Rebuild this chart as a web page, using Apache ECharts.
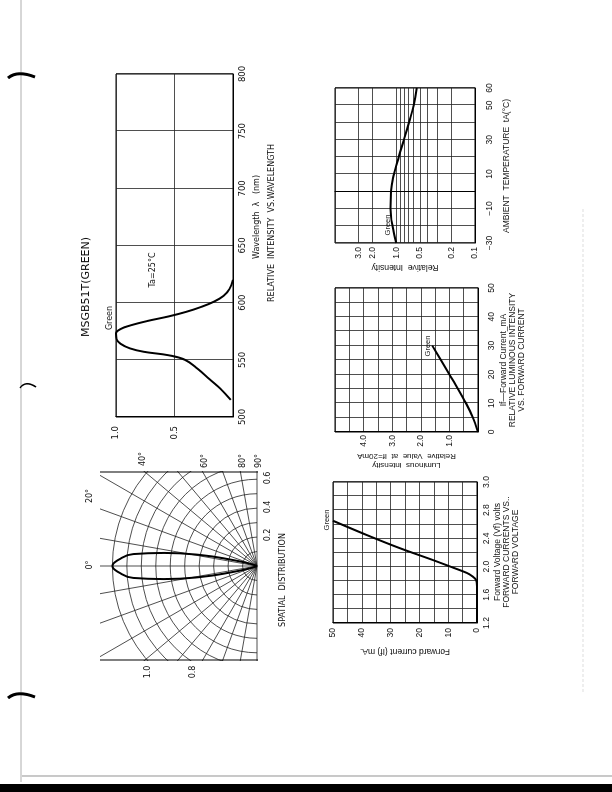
<!DOCTYPE html>
<html><head><meta charset="utf-8">
<script src="https://cdn.jsdelivr.net/npm/echarts@6/dist/echarts.min.js"></script>
<style>
html,body{margin:0;padding:0;background:#fff;width:612px;height:792px;overflow:hidden}
#page{position:absolute;left:0;top:0;width:792px;height:612px;transform-origin:0 0;transform:translate(0,792px) rotate(-90deg);}
</style></head><body><div id="page"></div>
<script>
// ---------- DATA ----------
const wavelengthNm   = [515,525,533,542,550,554,557,560,564,568,573,577,580,584,588,592,596,601,606,612,620];
const spectrumRel    = [0.02,0.11,0.2,0.3,0.41,0.55,0.76,0.88,0.96,0.995,1.0,0.96,0.88,0.73,0.55,0.4,0.28,0.16,0.08,0.03,0.0];
const wavelengthTicks = [500,550,600,650,700,750,800];

const lobeAngleDeg   = [-28,-18,-14,-11,-8,-5.5,-2.5,0,2.5,5.5,8,11,14,18,28];
const lobeRadius     = [0,0.05,0.17,0.4,0.65,0.86,0.96,1.0,0.96,0.86,0.65,0.4,0.17,0.05,0];

const vfVolts        = [1.2,1.5,1.72,1.81,1.86,1.91,2.01,2.09,2.26,2.45,2.65];
const vfCurrentMa    = [0,0,0,0.3,1.5,3.5,9.9,15.1,26.7,38.4,50];
const vfTickLabels   = ['1.2','1.6','2.0','2.4','2.8','3.0'];

const ivCurrentMa    = [0,5,10,15,20,25,30];
const ivRelative     = [0,0.18,0.42,0.7,1.0,1.3,1.6];

const tempC          = [-30,-20,-10,0,10,20,30,40,50,60];
const tempRelative   = [1.0,1.12,1.18,1.17,1.07,0.93,0.8,0.69,0.6,0.55];
const tempTicks      = [-30,-10,10,30,50,60];
const relIntTicks    = [0.1,0.2,0.5,1,2,3];
const logMinor       = [0.2,0.3,0.4,0.5,0.6,0.7,0.8,0.9,2,3];

// ---------- CHART ----------
const FONT = 'DejaVu Sans';
const FONT2 = 'Liberation Sans';
const chart = echarts.init(document.getElementById('page'), null, {renderer:'canvas', width:792, height:612});

function pairs(a,b){return a.map((v,i)=>[v,b[i]]);}
const black = '#111';
const gridLine = {show:true, lineStyle:{color:'#222', width:0.8}};

function txt(x,y,text,opts){
  opts = opts||{};
  return {type:'text', x:x, y:y, z:20, rotation: opts.rot||0,
    style:{text:text, fill:'#111', fontSize:opts.size||8, fontFamily:opts.font||FONT,
      align:opts.align||'center', verticalAlign:'middle', lineHeight:opts.lh||10}};
}
function rect(x,y,w,h,fill,z){return {type:'rect', z:z, shape:{x:x,y:y,width:w,height:h}, style:{fill:fill}};}
function line(x1,y1,x2,y2,color,w,z,dash){return {type:'line', z:z||20, shape:{x1:x1,y1:y1,x2:x2,y2:y2}, style:{stroke:color, lineWidth:w, lineDash:dash||null}};}
function mark(x,y,len,w){return {type:'bezierCurve', z:20, shape:{x1:x-3,y1:y,x2:x-2,y2:y+len,cpx1:x+5,cpy1:y+len*0.35}, style:{stroke:'#000', lineWidth:w, fill:null}};}

const option = {
  animation:false,
  backgroundColor:'#fff',
  grid:[
    {left:375, top:116, width:343, height:117, show:true, borderColor:'#000', borderWidth:1, z:5},
    {left:169, top:333, width:141, height:144, show:true, borderColor:'#000', borderWidth:1, z:5},
    {left:360, top:335, width:144, height:143, show:true, borderColor:'#000', borderWidth:1, z:5},
    {left:549, top:335, width:155, height:140, show:true, borderColor:'#000', borderWidth:1, z:5}
  ],
  polar:{center:[226,257], radius:188},
  angleAxis:{type:'value', min:-90, max:90, startAngle:180, endAngle:0, clockwise:true, interval:10, z:0,
    axisLine:{show:false}, axisTick:{show:false}, axisLabel:{show:false},
    splitLine:{show:true, lineStyle:{color:'#222', width:0.8}}},
  radiusAxis:{type:'value', min:0, max:1.3, interval:0.1, z:0,
    axisLine:{show:false}, axisTick:{show:false}, axisLabel:{show:false},
    splitLine:{show:true, lineStyle:{width:0.8, color:['#222','#222','#222','#222','#222','#222','#222','#222','#222','#222','#222','rgba(0,0,0,0)','rgba(0,0,0,0)','rgba(0,0,0,0)']}}},
  xAxis:[
    {gridIndex:0, type:'value', min:500, max:800, interval:50, z:5,
      axisLine:{show:true, lineStyle:{color:'#000'}}, axisTick:{show:false}, splitLine:gridLine,
      axisLabel:{fontSize:8.5, fontFamily:FONT, color:black, margin:5,
        formatter:v=>wavelengthTicks.indexOf(v)>=0?String(v):''}},
    {gridIndex:1, type:'value', min:1.2, max:3.2, interval:0.2, z:5,
      axisLine:{show:true, lineStyle:{color:'#000'}}, axisTick:{show:false}, splitLine:gridLine,
      axisLabel:{fontSize:8.5, fontFamily:FONT2, color:black, margin:5,
        formatter:(v,i)=> i%2===0 ? (vfTickLabels[i/2]||'') : ''}},
    {gridIndex:2, type:'value', min:0, max:50, interval:5, z:5,
      axisLine:{show:true, lineStyle:{color:'#000'}}, axisTick:{show:false}, splitLine:gridLine,
      axisLabel:{fontSize:8.5, fontFamily:FONT2, color:black, margin:9,
        formatter:v=> v%10===0 ? String(v) : ''}},
    {gridIndex:3, type:'value', min:-30, max:60, interval:10, z:5,
      axisLine:{show:true, lineStyle:{color:'#000'}}, axisTick:{show:false}, splitLine:gridLine,
      axisLabel:{fontSize:8.5, fontFamily:FONT2, color:black, margin:10,
        formatter:v=> tempTicks.indexOf(v)>=0 ? String(v).replace('-','\u2212') : ''}}
  ],
  yAxis:[
    {gridIndex:0, type:'value', min:0, max:1, interval:0.5, z:5,
      axisLine:{show:true, lineStyle:{color:'#000'}}, axisTick:{show:false}, splitLine:gridLine,
      axisLabel:{fontSize:8.5, fontFamily:FONT, color:black, margin:9,
        formatter:v=> v===0 ? '' : v.toFixed(1)}},
    {gridIndex:1, type:'value', min:0, max:50, interval:5, z:5,
      name:'Forward current (If) mA.', nameLocation:'middle', nameGap:24, nameRotate:90,
      nameTextStyle:{fontSize:8.5, fontFamily:FONT2, color:black},
      axisLine:{show:true, lineStyle:{color:'#000'}}, axisTick:{show:false}, splitLine:gridLine,
      axisLabel:{fontSize:8.5, fontFamily:FONT2, color:black, margin:5,
        formatter:v=> v%10===0 ? String(v) : ''}},
    {gridIndex:2, type:'value', min:0, max:5, interval:0.5, z:5,
      name:'Luminous  intensity\nRelative  Value  at  If=20mA', nameLocation:'middle', nameGap:20, nameRotate:90,
      nameTextStyle:{fontSize:8, fontFamily:FONT2, color:black, lineHeight:9},
      axisLine:{show:true, lineStyle:{color:'#000'}}, axisTick:{show:false}, splitLine:gridLine,
      axisLabel:{fontSize:8.5, fontFamily:FONT2, color:black, margin:3,
        formatter:v=> (v>=1 && v<=4 && v%1===0) ? v.toFixed(1) : ''}},
    {gridIndex:3, type:'log', min:0.1, max:6, logBase:10, z:5,
      name:'Relative  Intensity', nameLocation:'middle', nameGap:19, nameRotate:90,
      nameTextStyle:{fontSize:8.5, fontFamily:FONT2, color:black},
      axisLine:{show:true, lineStyle:{color:'#000'}}, axisTick:{show:false}, splitLine:gridLine,
      axisLabel:{fontSize:8.5, fontFamily:FONT2, color:black, margin:4, customValues:relIntTicks,
        formatter:v=> Number(v).toFixed(1)}}
  ],
  series:[
    {type:'line', xAxisIndex:0, yAxisIndex:0, data:pairs(wavelengthNm, spectrumRel), smooth:0.4,
      showSymbol:false, lineStyle:{color:'#000', width:2}, z:6},
    {type:'line', coordinateSystem:'polar', data:pairs(lobeRadius, lobeAngleDeg), smooth:0.5,
      showSymbol:false, lineStyle:{color:'#000', width:2}, z:2},
    {type:'line', xAxisIndex:1, yAxisIndex:1, data:pairs(vfVolts, vfCurrentMa), smooth:0.3,
      showSymbol:false, lineStyle:{color:'#000', width:2}, z:6},
    {type:'line', xAxisIndex:2, yAxisIndex:2, data:pairs(ivCurrentMa, ivRelative), smooth:0.3,
      showSymbol:false, lineStyle:{color:'#000', width:2}, z:6},
    {type:'line', xAxisIndex:3, yAxisIndex:3, data:pairs(tempC, tempRelative), smooth:0.4,
      showSymbol:false, lineStyle:{color:'#000', width:2}, z:6,
      markLine:{silent:true, symbol:'none', label:{show:false}, lineStyle:{color:'#222', width:0.8, type:'solid'},
        data:logMinor.map(v=>({yAxis:v}))}}
  ],
  graphic:[
    // masks clipping the polar grid to its frame
    rect(20,40,111,225,'#fff',3),
    rect(321,40,100,225,'#fff',3),
    rect(60,30,360,70,'#fff',3),
    line(132,100,132,258,'#000',1,4),
    line(320,100,320,258,'#000',1,4),
    // spectrum texts
    txt(474,110,'Green'),
    txt(522,153,'Ta=25\u00b0C'),
    txt(575,257,'Wavelength  \u03bb   (nm)'),
    txt(569,272,'RELATIVE  INTENSITY  VS.WAVELENGTH'),
    // polar texts
    txt(227,90,'0\u00b0'), txt(296,90,'20\u00b0'),
    txt(333,143,'40\u00b0'), txt(331,205,'60\u00b0'), txt(331,243,'80\u00b0'), txt(331,259,'90\u00b0'),
    txt(257,268,'0.2'), txt(285,268,'0.4'), txt(314,268,'0.6'),
    txt(120,148,'1.0'), txt(120,193,'0.8'),
    txt(212,283,'SPATIAL  DISTRIBUTION'),
    // title
    txt(505,86,'MSGB51T(GREEN)',{size:11}),
    // forward voltage texts
    txt(272,327,'Green',{font:FONT2,size:7.5}),
    txt(240,507,'Forward Voltage (Vf) volts\nFORWARD CURRENTS VS..\nFORWARD VOLTAGE',{font:FONT2,size:8.5,lh:9}),
    // luminous texts
    txt(446,428,'Green',{font:FONT2,size:7.5}),
    txt(432,513,'If\u2014Forward Current_mA\nRELATIVE LUMINOUS INTENSITY\nVS. FORWARD CURRENT',{font:FONT2,size:8.5,lh:9}),
    // temperature texts
    txt(567,388,'Green',{font:FONT2,size:7.5}),
    txt(626,507,'AMBIENT  TEMPERATURE  tA(\u00b0C)',{font:FONT2,size:8.5}),
    // page decorations
    rect(0,0,8,612,'#000',20),
    line(16,22,16,612,'#777',0.8),
    line(10,21,792,21,'#999',0.8),
    line(100,583,585,583,'#d4d4d4',0.8,20,[3,2]),
    mark(717,8,27,3), mark(407,20,16,1.5), mark(97,8,27,3)
  ]
};
chart.setOption(option);
</script></body></html>
